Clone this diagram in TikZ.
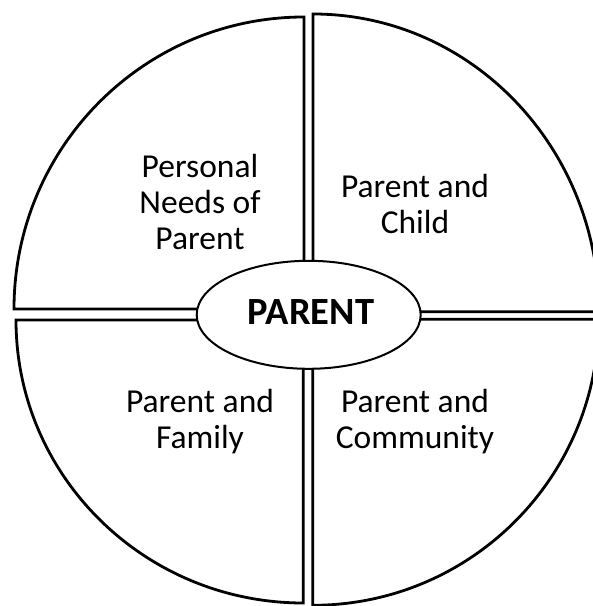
\documentclass[tikz,border=0pt]{standalone}
\usepackage{fontspec}
\setmainfont{Carlito}
\usetikzlibrary{shapes.geometric}
\begin{document}
\begin{tikzpicture}[x=1pt,y=1pt,
  sector/.style={draw=black,line width=2.8pt,fill=white,miter limit=10},
  label/.style={align=center,font=\fontsize{33.5}{36}\selectfont,text=black,inner sep=0pt},
  hub/.style={ellipse,draw=black,line width=2pt,fill=white,minimum width=224pt,minimum height=108pt,inner sep=0pt}]
\useasboundingbox (0,0) rectangle (593,606);
\clip (0,0) rectangle (593,606);
\fill[white] (0,0) rectangle (593,606);
% top-left sector
\draw[sector] (304,297) -- (14,297) arc[start angle=180,end angle=90,x radius=290,y radius=292] -- cycle;
% top-right sector
\draw[sector] (313,294.3) -- (313,592) arc[start angle=90,end angle=0,x radius=286,y radius=297.7] -- cycle;
% bottom-left sector
\draw[sector] (303.3,286) -- (16,286) arc[start angle=180,end angle=270,x radius=287.3,y radius=283] -- cycle;
% bottom-right sector
\draw[sector] (312.7,286.7) -- (312.7,0.7) arc[start angle=270,end angle=360,x radius=286,y radius=286] -- cycle;
% labels
\node[label] (tl) at (200,404.5) {Personal\\Needs of\\Parent};
\node[label] (tr) at (415,402) {Parent and\\Child};
\node[label] (bl) at (200,184) {Parent and\\Family};
\node[label] (br) at (415,184) {Parent and\\Community};
% centre
\node[hub] (parent) at (308.7,291.2) {};
\node[font=\fontsize{38.5}{40}\selectfont\bfseries,inner sep=0pt] (parenttext) at (311,294) {PARENT};
\end{tikzpicture}
\end{document}
